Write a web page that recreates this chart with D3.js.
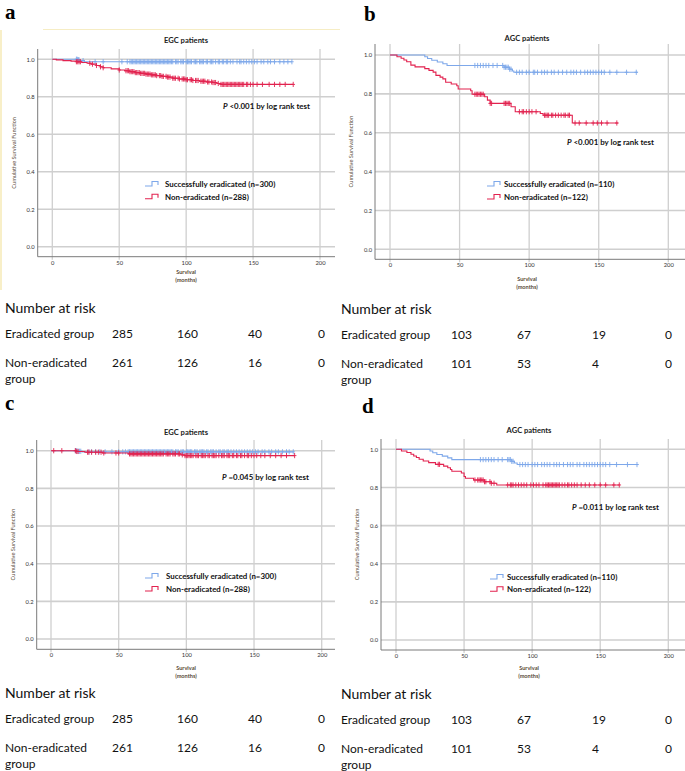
<!DOCTYPE html>
<html><head><meta charset="utf-8">
<script src="https://cdn.jsdelivr.net/npm/d3@7"></script>
<style>
html,body{margin:0;padding:0;background:#fff;}
svg{display:block;font-family:Lato,"Open Sans",sans-serif;}
</style></head>
<body>
<svg id="chart" width="685" height="771"></svg>
<script>
// ---------------- DATA ----------------
const monthTicks = [0, 50, 100, 150, 200];
const survTicks = [0, 0.2, 0.4, 0.6, 0.8, 1.0];

// Panel a: EGC patients (steps: [month, survival])
const aBlueSteps = [[0,1],[19,0.997],[21,0.993],[24,0.987]];
const aBlueEnd = 179;
const aBlueCensor = [18,18.5,19,19.5,20,23,32,38,52,56,58,59,60,61,62,63,64,65,66,67,68,69,70,71,72,73,74,75,76,77,78,79,80,81,82,83,84,85,86,87,88,89,90,92,93,94,96,97,98,100,101,102,103,104,106,107,108,110,111,112,113,115,116,118,119,120,122,124,125,127,128,130,131,133,135,138,140,141,143,145,147,149,151,153,156,158,161,163,166,170,173,176,179];
const aRedSteps = [[0,1],[3,0.997],[8,0.993],[14,0.99],[18,0.987],[22,0.983],[26,0.979],[29,0.974],[33,0.967],[36,0.96],[38,0.955],[44,0.949],[50,0.943],[54,0.939],[58,0.934],[62,0.929],[66,0.925],[70,0.921],[74,0.917],[78,0.913],[82,0.909],[86,0.905],[90,0.899],[95,0.895],[100,0.891],[105,0.887],[110,0.883],[115,0.879],[120,0.876],[123,0.871],[126,0.866]];
const aRedEnd = 180;
const aRedCensor = [18,19,20,21,28,30,33,36,38,50,55,56,57,58,59,60,61,62,63,64,65,66,67,68,69,70,71,72,73,74,75,76,77,78,80,81,82,83,85,86,87,88,90,91,92,94,95,97,98,99,100,101,103,104,105,107,108,109,111,112,113,114,116,117,119,120,121,122,124,126,127,128,129,130,131,132,133,134,135,136,137,138,139,140,141,142,143,145,146,148,150,153,157,162,166,170,174,180];

// Panel b: AGC patients
const bBlueSteps = [[0,1],[25,0.991],[27,0.982],[30,0.973],[34,0.964],[38,0.955],[41,0.946],[82,0.937],[86,0.927],[88,0.918],[89,0.911]];
const bBlueEnd = 178;
const bBlueCensor = [61,63,65,67,69,71,74,77,81,82,83,84,85,86,87,91,93,95,98,100,103,104,106,109,111,113,116,118,121,124,127,130,132,134,137,140,142,144,146,148,150,152,154,158,163,170,177];
const bRedSteps = [[0,1],[5,0.991],[8,0.983],[10,0.974],[12,0.965],[15,0.948],[18,0.939],[25,0.93],[28,0.921],[31,0.912],[33,0.895],[36,0.886],[38,0.877],[40,0.86],[44,0.851],[48,0.842],[49,0.825],[58,0.816],[59,0.798],[68,0.785],[70,0.768],[72,0.751],[87,0.734],[90,0.708],[108,0.699],[110,0.69],[131,0.65]];
const bRedEnd = 164;
const bRedCensor = [61,62,63,64,65,66,67,72,73,82,83,84,85,86,93,95,96,98,100,102,105,111,112,113,114,116,117,119,121,123,125,126,128,129,133,136,141,146,149,152,156,163];

// Panel c: EGC patients
const cBlueSteps = [[0,1],[20,0.997],[23,0.994]];
const cBlueEnd = 179;
const cBlueCensor = [18,19,20,21,22,28,30,33,36,40,45,50,53,55,57,58,59,60,61,62,63,64,65,66,67,68,69,70,71,72,73,74,75,76,77,78,79,80,81,82,83,84,85,86,87,88,89,90,92,93,94,96,97,98,100,101,102,103,104,106,107,108,110,111,112,113,115,116,118,119,120,122,124,125,127,128,130,131,133,135,137,139,141,143,145,147,149,151,153,156,158,161,163,166,168,171,174,176,179];
const cRedSteps = [[0,1],[19,0.996],[25,0.992],[38,0.988],[57,0.983],[96,0.978],[99,0.974]];
const cRedEnd = 180;
const cRedCensor = [2,8,18,19,20,27,28,30,33,35,37,39,48,50,58,59,60,61,62,63,64,65,66,67,68,69,70,71,72,73,74,75,76,77,78,79,80,81,82,83,85,86,87,88,90,91,92,94,95,97,99,100,101,102,103,104,105,107,108,109,111,112,113,114,116,117,119,120,121,122,124,126,127,128,130,131,132,134,135,137,138,140,141,143,145,146,148,150,152,155,158,162,166,170,174,180];

// Panel d: AGC patients
const dBlueSteps = [[0,1],[25,0.991],[27,0.982],[30,0.973],[34,0.964],[38,0.955],[41,0.946],[85,0.937],[87,0.928],[89,0.92]];
const dBlueEnd = 178;
const dBlueCensor = [62,64,66,68,70,72,75,78,82,83,84,85,86,91,93,95,97,100,102,104,107,109,111,113,116,118,120,123,126,128,130,133,135,138,140,142,144,146,148,150,152,154,157,162,170,177];
const dRedSteps = [[0,1],[4,0.991],[8,0.983],[11,0.974],[13,0.965],[15,0.957],[17,0.948],[20,0.939],[24,0.93],[29,0.921],[35,0.912],[38,0.903],[40,0.894],[41,0.885],[48,0.876],[50,0.857],[51,0.848],[57,0.839],[65,0.83],[70,0.822],[74,0.813]];
const dRedEnd = 164;
const dRedCensor = [31,32,58,60,61,62,63,64,65,66,69,70,72,82,84,85,86,88,90,92,94,96,99,101,103,105,108,110,111,112,113,114,115,116,117,118,119,120,122,124,126,127,129,131,133,136,139,142,146,150,154,160,164];

// Legend / annotation text
const panelTitles = ["EGC patients", "AGC patients", "EGC patients", "AGC patients"];
const legendBlue = ["Successfully eradicated (n=300)", "Successfully eradicated (n=110)", "Successfully eradicated (n=300)", "Successfully eradicated (n=110)"];
const legendRed = ["Non-eradicated (n=288)", "Non-eradicated (n=122)", "Non-eradicated (n=288)", "Non-eradicated (n=122)"];
const pValues = ["<0.001", "<0.001", "=0.045", "=0.011"];

// Number at risk
const egcEradRisk = [285, 160, 40, 0];
const egcNonRisk = [261, 126, 16, 0];
const agcEradRisk = [103, 67, 19, 0];
const agcNonRisk = [101, 53, 4, 0];

// ---------------- DRAWING ----------------
const svg = d3.select("#chart");
const BLUE = "#7ea8ea", RED = "#e2224f";

// faint yellow frame remnants (top-left panel)
svg.append("line").attr("x1",43).attr("x2",340).attr("y1",29.5).attr("y2",29.5).attr("stroke","#f6edc4").attr("stroke-width",1.2);
svg.append("line").attr("x1",1).attr("x2",1).attr("y1",30).attr("y2",290).attr("stroke","#f8efc8").attr("stroke-width",2);

const panels = [
  {label:"a", lx:5, ly:18.5, x0:52.3, x200:320, y1:59.3, y0:246.7, left:37.7, bottom:256.7, top:49, right:335, titleY:40, tcx:186,
   legX:145, legY:184, legY2:196.7, legTx:165, pX:223, pY:106, xlabY:272,
   blue:[aBlueSteps,aBlueEnd,aBlueCensor], red:[aRedSteps,aRedEnd,aRedCensor]},
  {label:"b", lx:364, ly:21, x0:390, x200:668.3, y1:55, y0:249.3, left:375, bottom:259.3, top:44, right:685, titleY:38, tcx:527,
   legX:487, legY:184, legY2:197, legTx:504, pX:567, pY:142, xlabY:279,
   blue:[bBlueSteps,bBlueEnd,bBlueCensor], red:[bRedSteps,bRedEnd,bRedCensor]},
  {label:"c", lx:5, ly:410, x0:51, x200:321.7, y1:450.7, y0:639, left:36.7, bottom:649.3, top:440, right:335, titleY:432, tcx:186,
   legX:145, legY:576, legY2:589, legTx:166, pX:222, pY:477, xlabY:668,
   blue:[cBlueSteps,cBlueEnd,cBlueCensor], red:[cRedSteps,cRedEnd,cRedCensor]},
  {label:"d", lx:362, ly:412.5, x0:396, x200:668.3, y1:449.3, y0:640, left:381, bottom:650, top:439, right:685, titleY:430, tcx:529,
   legX:490, legY:577, legY2:589.3, legTx:507, pX:572, pY:507, xlabY:668,
   blue:[dBlueSteps,dBlueEnd,dBlueCensor], red:[dRedSteps,dRedEnd,dRedCensor]}
];

panels.forEach((p, i) => {
  const g = svg.append("g");
  const x = d3.scaleLinear().domain([0,200]).range([p.x0, p.x200]);
  const y = d3.scaleLinear().domain([0,1]).range([p.y0, p.y1]);

  // panel letter
  svg.append("text").attr("x",p.lx).attr("y",p.ly).text(p.label)
    .attr("font-family","'Liberation Serif','DejaVu Serif',serif").attr("font-weight","bold")
    .attr("font-size",21).attr("fill","#000");

  // gridlines
  g.append("g").selectAll("line").data(survTicks).join("line")
    .attr("x1",p.left).attr("x2",p.right).attr("y1",d=>y(d)).attr("y2",d=>y(d))
    .attr("stroke","#cfcfcf").attr("stroke-width",1.6);
  g.append("g").selectAll("line").data(monthTicks).join("line")
    .attr("x1",d=>x(d)).attr("x2",d=>x(d)).attr("y1",p.top).attr("y2",p.bottom+3)
    .attr("stroke","#cfcfcf").attr("stroke-width",1.3);

  // axes
  const xAxis = d3.axisBottom(x).tickValues(monthTicks).tickSize(0).tickPadding(4).tickFormat(d3.format("d"));
  const xa = g.append("g").attr("transform",`translate(0,${p.bottom})`).call(xAxis);
  xa.select(".domain").remove();
  xa.selectAll("text").attr("font-size",5.8).attr("fill","#333").attr("font-family","Lato,sans-serif");
  const yAxis = d3.axisLeft(y).tickValues(survTicks).tickSize(0).tickPadding(3).tickFormat(d3.format(".1f"));
  const ya = g.append("g").attr("transform",`translate(${p.left},0)`).call(yAxis);
  ya.select(".domain").remove();
  ya.selectAll("text").attr("font-size",5.8).attr("fill","#333").attr("font-family","Lato,sans-serif");

  g.append("line").attr("x1",p.left).attr("x2",p.left).attr("y1",p.top).attr("y2",p.bottom).attr("stroke","#7a7a7a").attr("stroke-width",1);
  g.append("line").attr("x1",p.left).attr("x2",p.right).attr("y1",p.bottom).attr("y2",p.bottom).attr("stroke","#7a7a7a").attr("stroke-width",1);

  // titles
  g.append("text").attr("x",p.tcx).attr("y",p.titleY+2.6).attr("text-anchor","middle")
    .attr("font-size",7.6).attr("font-weight","bold").attr("fill","#222").text(panelTitles[i]);
  g.append("text").attr("transform",`translate(${p.left-22},${(p.top+p.bottom)/2}) rotate(-90)`)
    .attr("text-anchor","middle").attr("font-size",5.6).attr("fill","#5a4b3a").text("Cumulative Survival Function");
  g.append("text").attr("x",p.tcx).attr("y",p.xlabY+2).attr("text-anchor","middle")
    .attr("font-size",5.6).attr("font-weight","bold").attr("fill","#5a4b3a").text("Survival");
  g.append("text").attr("x",p.tcx).attr("y",p.xlabY+10).attr("text-anchor","middle")
    .attr("font-size",5.6).attr("font-weight","bold").attr("fill","#5a4b3a").text("(months)");

  // curves
  const line = d3.line().x(d=>x(d[0])).y(d=>y(d[1])).curve(d3.curveStepAfter);
  const bis = d3.bisector(d=>d[0]).right;
  [[p.blue, BLUE], [p.red, RED]].forEach(([ser, col]) => {
    const [steps, end, cens] = ser;
    const pts = steps.concat([[end, steps[steps.length-1][1]]]);
    g.append("path").attr("d", line(pts)).attr("fill","none").attr("stroke",col).attr("stroke-width",1.1);
    const sAt = t => steps[Math.max(0, bis(steps, t) - 1)][1];
    g.append("g").selectAll("path").data(cens).join("path")
      .attr("d", t => { const cxp = x(t), cyp = y(sAt(t)); return `M${cxp},${cyp-2.6}V${cyp+2.6}M${cxp-1.8},${cyp}H${cxp+1.8}`; })
      .attr("stroke",col).attr("stroke-width",0.9).attr("fill","none");
  });

  // P value
  const pt = g.append("text").attr("x",p.pX).attr("y",p.pY+2.8).attr("font-size",7.9).attr("font-weight","bold").attr("fill","#111");
  pt.append("tspan").attr("font-style","italic").text("P");
  pt.append("tspan").text(" " + pValues[i] + " by log rank test");

  // legend
  [[p.legY, BLUE, legendBlue[i]], [p.legY2, RED, legendRed[i]]].forEach(([ly, col, txt]) => {
    const lx = p.legX;
    g.append("path").attr("d",`M${lx},${ly+2}H${lx+7}V${ly-2.5}H${lx+13}V${ly+1}`)
      .attr("fill","none").attr("stroke",col).attr("stroke-width",1.1);
    g.append("text").attr("x",p.legTx).attr("y",ly+2.8).attr("font-size",7.9).attr("font-weight","bold")
      .attr("fill","#111").text(txt);
  });
});

// ---------------- RISK TABLES ----------------
const tables = [
  {x:5, y:313, cols:[112,177,248,318], erad:egcEradRisk, non:egcNonRisk},
  {x:341, y:314, cols:[451,517,592,665], erad:agcEradRisk, non:agcNonRisk},
  {x:5, y:698, cols:[112,177,248,318], erad:egcEradRisk, non:egcNonRisk},
  {x:341, y:699, cols:[451,517,592,665], erad:agcEradRisk, non:agcNonRisk}
];
tables.forEach(t => {
  const g = svg.append("g").attr("font-family","Lato,'Open Sans',sans-serif").attr("fill","#111");
  g.append("text").attr("x",t.x).attr("y",t.y).attr("font-size",14).text("Number at risk");
  g.append("text").attr("x",t.x).attr("y",t.y+24.5).attr("font-size",12).text("Eradicated group");
  g.append("text").attr("x",t.x).attr("y",t.y+53.5).attr("font-size",12).text("Non-eradicated");
  g.append("text").attr("x",t.x).attr("y",t.y+69.5).attr("font-size",12).text("group");
  g.selectAll(".e").data(t.erad).join("text").attr("x",(d,k)=>t.cols[k]).attr("y",t.y+24.5).attr("font-size",12).text(d=>d);
  g.selectAll(".n").data(t.non).join("text").attr("x",(d,k)=>t.cols[k]).attr("y",t.y+53.5).attr("font-size",12).text(d=>d);
});
</script>
</body></html>
